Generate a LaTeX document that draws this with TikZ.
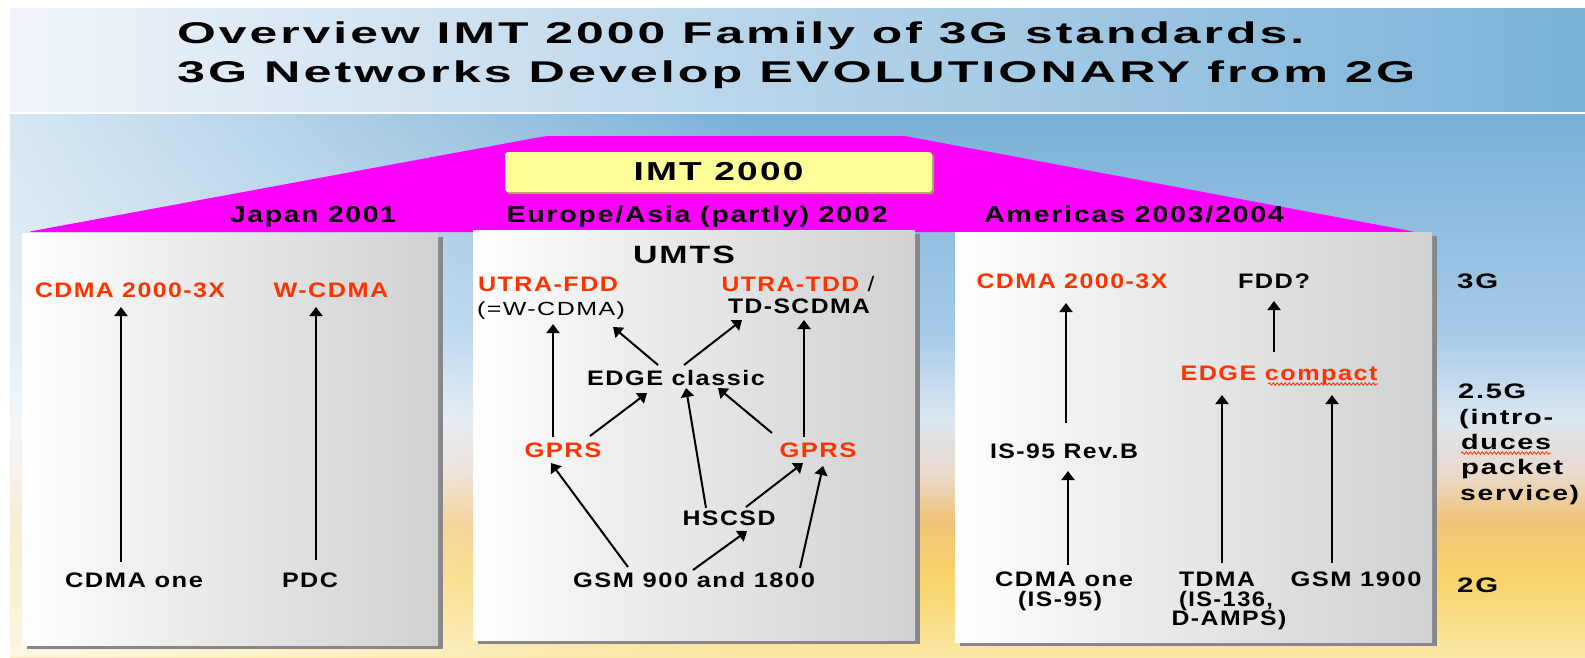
\documentclass[tikz,border=0pt]{standalone}
\usepackage{fontspec}
\usepackage{graphicx}
\setmainfont{Liberation Sans}
\newfontfamily\PanF{Liberation Sans}[LetterSpace=6]
\newfontfamily\TitF{Liberation Sans}[LetterSpace=6]
\usetikzlibrary{arrows.meta,calc,fadings,decorations.pathmorphing}
\definecolor{myred}{RGB}{255,51,0}
\definecolor{trapC}{RGB}{255,0,255}
\definecolor{imtY}{RGB}{255,255,153}
\definecolor{imtS}{RGB}{165,165,95}
\definecolor{shadowC}{RGB}{135,135,135}
\definecolor{tbL}{RGB}{240,244,250}
\definecolor{tbR}{RGB}{122,178,216}
\definecolor{bgB}{RGB}{122,176,215}
\definecolor{bgLB}{RGB}{165,202,232}
\definecolor{bgW}{RGB}{218,230,241}
\definecolor{bgP}{RGB}{233,218,205}
\definecolor{bgO}{RGB}{240,196,120}
\definecolor{bgY}{RGB}{248,212,105}
\definecolor{bgYY}{RGB}{250,232,165}
\definecolor{panelM}{RGB}{240,241,241}
\definecolor{panelR}{RGB}{208,209,210}
\pgfdeclareverticalshading{lowbg}{100bp}{color(0bp)=(bgYY); color(25bp)=(bgYY); color(32bp)=(bgY); color(37.5bp)=(bgO); color(42bp)=(bgP); color(47bp)=(bgW); color(55bp)=(bgLB); color(75bp)=(bgB); color(100bp)=(bgB)}
\pgfdeclarehorizontalshading{panelsh}{100bp}{color(0bp)=(white); color(25bp)=(white); color(38bp)=(panelM); color(75bp)=(panelR); color(100bp)=(panelR)}
\tikzfading[name=leftfade, left color=transparent!30, right color=transparent!100]
\newsavebox\wbox
\newcommand\W[2]{\sbox\wbox{#2}\pgfmathsetmacro\wsf{#1/(\the\wd\wbox)}\scalebox{\wsf}[1]{\usebox\wbox}}
\begin{document}
\begin{tikzpicture}[x=1pt,y=-1pt,
  txt/.style={inner sep=0pt, anchor=base, font=\PanF\bfseries\fontsize{21}{24}\selectfont},
  rtxt/.style={txt, text=myred},
  lbl/.style={txt, anchor=base west},
  region/.style={txt, font=\PanF\bfseries\fontsize{23}{27}\selectfont},
  ttl/.style={inner sep=0pt, anchor=base west, font=\TitF\bfseries\fontsize{30}{36}\selectfont},
  imtbox/.style={fill=imtY, rounded corners=3pt, minimum width=427pt, minimum height=40pt, inner sep=0pt, font=\TitF\bfseries\fontsize{26}{30}\selectfont},
  panel/.style={shading=panelsh},
  arr/.style={line width=2pt, -{Triangle[length=9pt,width=13pt]}},
  squig/.style={myred, line width=0.8pt, decorate, decoration={snake, amplitude=1.2pt, segment length=4pt}}
]
\useasboundingbox (0,0) rectangle (1585,657);
\fill[white] (0,0) rectangle (1585,657);
% backgrounds
\shade[left color=tbL, right color=tbR] (10,8) rectangle (1585,111);
\shade[shading=lowbg] (10,114) rectangle (1585,657);
\fill[white, path fading=leftfade] (10,114) rectangle (760,657);
% magenta roof
\fill[trapC, rounded corners=5pt] (27,232) -- (546,136) -- (905,136) -- (1416,232) -- cycle;
% title
\node[ttl] (t1) at (177,43) {\W{1127}{Overview IMT 2000 Family of 3G standards.}};
\node[ttl] (t2) at (177,82) {\W{1238}{3G Networks Develop EVOLUTIONARY from 2G}};
% IMT box
\fill[imtS, rounded corners=3pt] (507,154) rectangle (934,194);
\node[imtbox] (imt) at (718.5,172) {\W{170}{IMT 2000}};
\node[region] (jp) at (313,222) {\W{166}{Japan 2001}};
\node[region] (eu) at (697,222) {\W{381}{Europe/Asia (partly) 2002}};
\node[region] (am) at (1134,222) {\W{300}{Americas 2003/2004}};
% panels
\fill[shadowC] (27,237) rectangle (443,649);
\shade[panel] (22,233) rectangle (438,645);
\fill[shadowC] (478,234) rectangle (920,644);
\shade[panel] (473,230) rectangle (915,640);
\fill[shadowC] (960,236) rectangle (1437,646);
\shade[panel] (955,232) rectangle (1432,642);
% left panel
\node[rtxt] (lc3x) at (130,297) {\W{190}{CDMA 2000-3X}};
\node[rtxt] (lwc) at (331,297) {\W{115}{W-CDMA}};
\node[txt] (lcone) at (134,587) {\W{138}{CDMA one}};
\node[txt] (lpdc) at (310,587) {\W{56}{PDC}};
\draw[arr] ($(lcone.base)+(-13,-25)$) -- ($(lc3x.base)+(-9,10)$);
\draw[arr] ($(lpdc.base)+(6,-27)$) -- ($(lwc.base)+(-15,10)$);
% middle panel
\node[txt, font=\PanF\bfseries\fontsize{25}{29}\selectfont] (umts) at (684,263) {\W{102}{UMTS}};
\node[rtxt] (ufdd) at (548,291) {\W{140}{UTRA-FDD}};
\node[txt, font=\PanF\mdseries\fontsize{19}{22}\selectfont] (weq) at (551,315) {\W{148}{(=W-CDMA)}};
\node[txt] (utdd) at (798,291) {\W{153}{\textcolor{myred}{UTRA-TDD} {\mdseries/}}};
\node[txt] (tdsc) at (799,313) {\W{142}{TD-SCDMA}};
\node[txt] (edge) at (676,385) {\W{178}{EDGE classic}};
\node[rtxt] (gprsL) at (563,457) {\W{77}{GPRS}};
\node[rtxt] (gprsR) at (818,457) {\W{77}{GPRS}};
\node[txt] (hscsd) at (729,525) {\W{93}{HSCSD}};
\node[txt] (gsm) at (694,587) {\W{242}{GSM 900 and 1800}};
\draw[arr] ($(gprsL.base)+(-10,-20)$) -- ($(weq.base)+(2,9)$);
\draw[arr] ($(edge.base)+(-18,-20)$) -- ($(weq.base)+(62,12)$);
\draw[arr] ($(edge.base)+(8,-20)$) -- ($(tdsc.base)+(-57,7)$);
\draw[arr] ($(gprsR.base)+(-14,-20)$) -- ($(tdsc.base)+(5,7)$);
\draw[arr] ($(gprsL.base)+(27,-21)$) -- ($(edge.base)+(-29,8)$);
\draw[arr] ($(hscsd.base)+(-23,-17)$) -- ($(edge.base)+(10,3)$);
\draw[arr] ($(gprsR.base)+(-46,-24)$) -- ($(edge.base)+(42,3)$);
\draw[arr] ($(gsm.base)+(-66,-20)$) -- ($(gprsL.base)+(-12,6)$);
\draw[arr] ($(gsm.base)+(-1,-17)$) -- ($(hscsd.base)+(18,6)$);
\draw[arr] ($(hscsd.base)+(17,-18)$) -- ($(gprsR.base)+(-15,6)$);
\draw[arr] ($(gsm.base)+(106,-19)$) -- ($(gprsR.base)+(5,9)$);
% right panel
\node[rtxt] (rc3x) at (1072,288) {\W{191}{CDMA 2000-3X}};
\node[txt] (fdd) at (1274,288) {\W{72}{FDD?}};
\node[rtxt] (edgec) at (1279,380) {\W{197}{EDGE compact}};
\draw[squig] (1268,384) -- (1378,384);
\node[txt] (is95b) at (1064,458) {\W{148}{IS-95 Rev.B}};
\node[txt] (rcone) at (1064,586) {\W{138}{CDMA one}};
\node[txt] (ris95) at (1060,606) {\W{84}{(IS-95)}};
\node[txt] (tdma) at (1217,586) {\W{76}{TDMA}};
\node[txt] (is136) at (1226,606) {\W{94}{(IS-136,}};
\node[txt] (damps) at (1229,625) {\W{115}{D-AMPS)}};
\node[txt] (gsm19) at (1356,586) {\W{131}{GSM 1900}};
\draw[arr] ($(is95b.base)+(2,-35)$) -- ($(rc3x.base)+(-6,15)$);
\draw[arr] ($(edgec.base)+(-5,-28)$) -- ($(fdd.base)+(0,13)$);
\draw[arr] ($(rcone.base)+(4,-21)$) -- ($(is95b.base)+(4,13)$);
\draw[arr] ($(tdma.base)+(5,-23)$) -- ($(edgec.base)+(-57,15)$);
\draw[arr] ($(gsm19.base)+(-24,-23)$) -- ($(edgec.base)+(53,15)$);
% generation labels
\node[lbl] (g3) at (1457,288) {\W{41}{3G}};
\node[lbl] (g25) at (1458,398) {\W{68}{2.5G}};
\node[lbl] (g25b) at (1459,424) {\W{94}{(intro-}};
\node[lbl] (g25c) at (1461,449) {\W{90}{duces}};
\draw[squig] (1461,453) -- (1551,453);
\node[lbl] (g25d) at (1461,474) {\W{102}{packet}};
\node[lbl] (g25e) at (1460,500) {\W{119}{service)}};
\node[lbl] (g2) at (1457,592) {\W{41}{2G}};
\end{tikzpicture}
\end{document}
